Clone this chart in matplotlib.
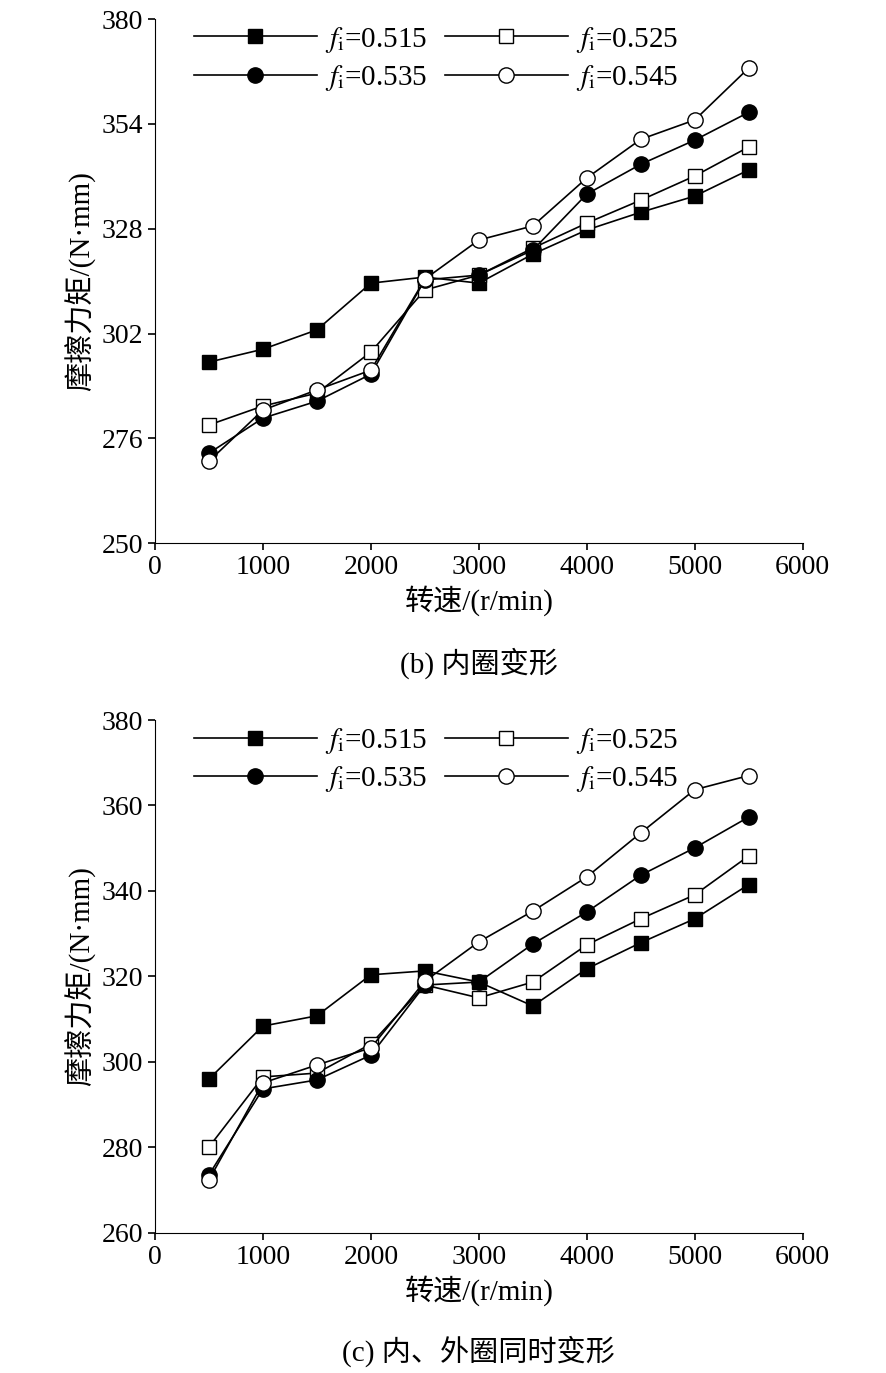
import matplotlib
matplotlib.use('Agg')
import matplotlib.pyplot as plt

plt.rcParams['font.family'] = ['Liberation Serif', 'Noto Sans CJK SC']
plt.rcParams['mathtext.fontset'] = 'stix'
plt.rcParams['font.size'] = 16

speed = [500, 1000, 1500, 2000, 2500, 3000, 3500, 4000, 4500, 5000, 5500]
labels = [r'$f_\mathrm{i}$=0.515', r'$f_\mathrm{i}$=0.525', r'$f_\mathrm{i}$=0.535', r'$f_\mathrm{i}$=0.545']

b_515 = [294.9, 298.1, 302.9, 314.5, 316.0, 314.5, 321.7, 327.7, 332.1, 336.1, 342.6]
b_525 = [279.3, 284.0, 287.2, 297.4, 312.8, 316.5, 323.2, 329.4, 335.1, 341.1, 348.3]
b_535 = [272.3, 281.0, 285.2, 291.9, 315.3, 316.5, 322.7, 336.6, 344.0, 350.0, 356.9]
b_545 = [270.3, 283.0, 288.0, 292.9, 315.5, 325.2, 328.7, 340.6, 350.2, 355.0, 367.9]

c_515 = [296.0, 308.4, 310.8, 320.4, 321.3, 318.7, 313.1, 321.8, 327.9, 333.5, 341.5]
c_525 = [280.1, 296.5, 297.4, 304.2, 318.0, 315.0, 318.7, 327.4, 333.5, 339.1, 348.2]
c_535 = [273.6, 293.7, 295.8, 301.6, 318.0, 318.7, 327.6, 335.1, 343.7, 350.1, 357.3]
c_545 = [272.4, 295.1, 299.3, 303.3, 318.9, 328.1, 335.3, 343.3, 353.6, 363.7, 367.0]

styles = [dict(marker='s', mfc='black'), dict(marker='s', mfc='white'),
          dict(marker='o', mfc='black'), dict(marker='o', mfc='white')]

fig = plt.figure(figsize=(8.87, 13.73), dpi=100)
ax1 = fig.add_axes([0.1747, 0.6045, 0.7303, 0.3815])
ax2 = fig.add_axes([0.1747, 0.1020, 0.7303, 0.3736])

def draw(ax, series, yl, yticks, title):
    hs = []
    for s, st, lb in zip(series, styles, labels):
        h, = ax.plot(speed, s, color='black', lw=1.2, mec='black', ms=11 if st['marker'] == 'o' else 10,
                     label=lb, **st)
        hs.append(h)
    ax.set_xlim(0, 6000)
    ax.set_ylim(*yl)
    ax.set_yticks(yticks)
    ax.set_xticks(range(0, 6001, 1000))
    for sp in ['top', 'right']:
        ax.spines[sp].set_visible(False)
    ax.tick_params(labelsize=20, width=1.2, length=5)
    ax.set_xlabel('转速/(r/min)', fontsize=21, labelpad=4)
    ax.set_ylabel('摩擦力矩/(N·mm)', fontsize=21, labelpad=4)
    order = [0, 2, 1, 3]
    ax.legend([hs[i] for i in order], [labels[i] for i in order], ncol=2, frameon=False,
              loc='upper left', fontsize=21, handlelength=4.2,
              columnspacing=0.6, handletextpad=0.3, labelspacing=0.3,
              bbox_to_anchor=(0.02, 1.04))
    ax.text(0.5, -0.2, title, transform=ax.transAxes, ha='center', va='top', fontsize=21)

draw(ax1, [b_515, b_525, b_535, b_545], (250, 380), [250, 276, 302, 328, 354, 380], '(b) 内圈变形')
draw(ax2, [c_515, c_525, c_535, c_545], (260, 380), range(260, 381, 20), '(c) 内、外圈同时变形')

fig.savefig('out.png', dpi=100)
